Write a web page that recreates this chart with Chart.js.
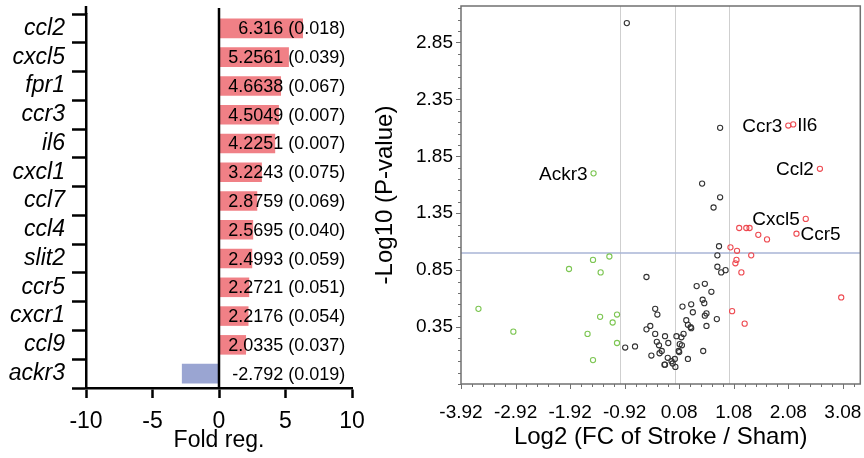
<!DOCTYPE html>
<html>
<head>
<meta charset="utf-8">
<script src="https://cdn.jsdelivr.net/npm/chart.js@4.4.1/dist/chart.umd.min.js"></script>
<style>
  html, body { margin: 0; padding: 0; background: #fff; }
  #wrap { position: relative; width: 864px; height: 458px; overflow: hidden; }
  canvas { position: absolute; top: 0; }
  #foldChart { left: 0; }
  #volcanoChart { left: 370px; }
</style>
</head>
<body>
<div id="wrap">
  <canvas id="foldChart" width="370" height="458"></canvas>
  <canvas id="volcanoChart" width="494" height="458"></canvas>
</div>
<script>
// left panel: fold regulation
const genes = ["ccl2", "cxcl5", "fpr1", "ccr3", "il6", "cxcl1", "ccl7", "ccl4", "slit2", "ccr5", "cxcr1", "ccl9", "ackr3"];
const foldValues = [6.316, 5.2561, 4.6638, 4.5049, 4.2251, 3.2243, 2.8759, 2.5695, 2.4993, 2.2721, 2.2176, 2.0335, -2.792];
const pValues = [0.018, 0.039, 0.067, 0.007, 0.007, 0.075, 0.069, 0.040, 0.059, 0.051, 0.054, 0.037, 0.019];
const foldTicks = [-10, -5, 0, 5, 10];

// right panel: volcano plot
const nsX = [-0.88, 0.83, 0.50, 0.83, 0.71, 0.81, 0.78, 0.78, 0.85, 0.93, -0.52, 0.40, 0.55, 0.67, 0.51, 0.54, 0.30, 0.14, 0.33, -0.36,
  -0.32, 0.58, 0.55, 0.77, 0.21, 0.24, 0.29, 0.30, 0.58, -0.45, -0.52, -0.36, -0.18, 0.03, 0.12, 0.16, -0.33, -0.29, -0.12, 0.09,
  0.13, -0.91, -0.73, -0.24, -0.28, -0.43, 0.07, 0.08, 0.52, -0.13, 0.00, 0.24, -0.06, -0.19, -0.18, -0.04, 0.01];
const nsY = [3.02, 2.10, 1.61, 1.49, 1.40, 1.06, 0.98, 0.88, 0.83, 0.85, 0.79, 0.71, 0.73, 0.66, 0.59, 0.56, 0.55, 0.53, 0.48, 0.51,
  0.46, 0.47, 0.45, 0.42, 0.41, 0.37, 0.35, 0.34, 0.36, 0.36, 0.33, 0.29, 0.27, 0.27, 0.26, 0.29, 0.22, 0.19, 0.21, 0.20,
  0.19, 0.17, 0.18, 0.14, 0.12, 0.10, 0.14, 0.13, 0.14, 0.08, 0.07, 0.07, 0.05, 0.02, 0.02, 0.03, 0.00];

const upX = [2.08, 2.17, 2.66, 2.40, 1.18, 1.31, 1.37, 1.53, 1.69, 2.23, 1.02, 1.14, 1.40, 1.13, 1.11, 1.22, 3.05, 1.05, 1.28];
const upY = [2.12, 2.13, 1.74, 1.30, 1.22, 1.22, 1.22, 1.16, 1.12, 1.17, 1.05, 1.02, 0.98, 0.94, 0.91, 0.83, 0.61, 0.49, 0.38];
const upNames = ["Ccr3", "Il6", "Ccl2", "Cxcl5", "", "", "", "", "", "Ccr5", "", "", "", "", "", "", "", "", ""];

const downX = [-1.49, -3.60, -2.96, -1.94, -1.50, -1.20, -1.36, -1.37, -1.06, -1.14, -1.60, -1.06, -1.50];
const downY = [1.70, 0.51, 0.31, 0.86, 0.94, 0.97, 0.83, 0.44, 0.46, 0.39, 0.29, 0.21, 0.06];
const downNames = ["Ackr3", "", "", "", "", "", "", "", "", "", "", "", ""];

const labelSide = { Ccr3: "left", Il6: "right", Ccl2: "left", Cxcl5: "left", Ccr5: "right", Ackr3: "left" };

const volcanoXTicks = [-3.92, -2.92, -1.92, -0.92, 0.08, 1.08, 2.08, 3.08];
const volcanoYTicks = [0.35, 0.85, 1.35, 1.85, 2.35, 2.85];
const foldCutoffs = [-1, 0, 1];
const pCutoff = 1.0;

const FONT = "'Liberation Sans', Arial, sans-serif";

function toPoints(xs, ys) {
  return xs.map((x, i) => ({ x, y: ys[i] }));
}

// majors plus evenly spaced minor ticks between them
function withMinorTicks(majors, parts, min, max) {
  const step = (majors[1] - majors[0]) / parts;
  let start = majors[0];
  while (start - step >= min - 1e-9) {
    start -= step;
  }
  const ticks = [];
  for (let i = 0; start + i * step <= max + 1e-9; i++) {
    const value = start + i * step;
    const major = majors.some((m) => Math.abs(m - value) < 1e-6);
    ticks.push({ value, major });
  }
  return ticks;
}

function noScalePadding(s) {
  s.paddingTop = 0;
  s.paddingBottom = 0;
  s.paddingLeft = 0;
  s.paddingRight = 0;
}

const foldAxisPlugin = {
  id: "foldAxisPlugin",
  afterDraw(chart) {
    const { ctx, chartArea, scales } = chart;
    const zero = scales.x.getPixelForValue(0);
    ctx.save();
    ctx.strokeStyle = "#000";
    ctx.lineWidth = 2.5;
    ctx.beginPath();
    ctx.moveTo(zero, 8);
    ctx.lineTo(zero, chartArea.bottom);
    ctx.moveTo(chartArea.left, 6);
    ctx.lineTo(chartArea.left, chartArea.top);
    ctx.stroke();

    const right = scales.x.getPixelForValue(9.5);
    ctx.font = "18px " + FONT;
    ctx.fillStyle = "#000";
    ctx.textAlign = "right";
    ctx.textBaseline = "middle";
    chart.getDatasetMeta(0).data.forEach((bar, i) => {
      ctx.fillText(`${foldValues[i]} (${pValues[i].toFixed(3)})`, right, bar.y + 1);
    });
    ctx.restore();
  },
};

const volcanoPlugin = {
  id: "volcanoPlugin",
  beforeDatasetsDraw(chart) {
    const { ctx, chartArea, scales: { x, y } } = chart;
    ctx.save();
    ctx.lineWidth = 1;
    ctx.strokeStyle = "#cfcfcf";
    foldCutoffs.forEach((v) => {
      const px = Math.round(x.getPixelForValue(v)) + 0.5;
      ctx.beginPath();
      ctx.moveTo(px, chartArea.top);
      ctx.lineTo(px, chartArea.bottom);
      ctx.stroke();
    });
    ctx.strokeStyle = "#a9b4d6";
    ctx.lineWidth = 1.5;
    const py = y.getPixelForValue(pCutoff);
    ctx.beginPath();
    ctx.moveTo(chartArea.left, py);
    ctx.lineTo(chartArea.right, py);
    ctx.stroke();
    ctx.restore();
  },
  afterDraw(chart) {
    const { ctx, chartArea, scales: { x, y } } = chart;
    ctx.save();
    ctx.strokeStyle = "#707070";
    ctx.lineWidth = 1.5;
    ctx.strokeRect(chartArea.left, chartArea.top, chartArea.right - chartArea.left, chartArea.bottom - chartArea.top);

    ctx.lineWidth = 1;
    ctx.beginPath();
    x.ticks.forEach((t) => {
      const px = Math.round(x.getPixelForValue(t.value)) + 0.5;
      ctx.moveTo(px, chartArea.bottom);
      ctx.lineTo(px, chartArea.bottom + (t.major ? 5 : 3));
    });
    y.ticks.forEach((t) => {
      const py = Math.round(y.getPixelForValue(t.value)) + 0.5;
      ctx.moveTo(chartArea.left, py);
      ctx.lineTo(chartArea.left - (t.major ? 5 : 3), py);
    });
    ctx.stroke();

    ctx.font = "19px " + FONT;
    ctx.fillStyle = "#000";
    ctx.textBaseline = "middle";
    [[1, upNames], [2, downNames]].forEach(([index, names]) => {
      const meta = chart.getDatasetMeta(index);
      names.forEach((name, i) => {
        if (!name) {
          return;
        }
        const pt = meta.data[i];
        if (labelSide[name] === "left") {
          ctx.textAlign = "right";
          ctx.fillText(name, pt.x - 6, pt.y + 1);
        } else {
          ctx.textAlign = "left";
          ctx.fillText(name, pt.x + 4, pt.y + 1);
        }
      });
    });
    ctx.restore();
  },
};

function createFoldChart() {
  new Chart(document.getElementById("foldChart"), {
    type: "bar",
    data: {
      labels: genes,
      datasets: [
        {
          data: foldValues,
          backgroundColor: foldValues.map((v) => (v > 0 ? "#f08086" : "#9aa5d2")),
          categoryPercentage: 1,
          barPercentage: 0.68,
        },
      ],
    },
    options: {
      indexAxis: "y",
      responsive: false,
      animation: false,
      layout: { padding: { top: 14, right: 18, left: 0, bottom: 0 } },
      plugins: { legend: { display: false }, tooltip: { enabled: false } },
      scales: {
        x: {
          type: "linear",
          min: -10,
          max: 10,
          afterBuildTicks: (s) => {
            s.ticks = foldTicks.map((v) => ({ value: v }));
          },
          afterFit: (s) => {
            s.height = 70;
            noScalePadding(s);
          },
          border: { color: "#000", width: 2.5 },
          grid: { drawOnChartArea: false, tickLength: 10, tickColor: "#000", tickWidth: 2.5 },
          ticks: { color: "#000", font: { size: 23 }, padding: 10, maxRotation: 0, autoSkip: false },
          title: { display: true, text: "Fold reg.", color: "#000", font: { size: 23 }, padding: { top: 0, bottom: 4 } },
        },
        y: {
          afterFit: (s) => {
            s.width = 86;
            noScalePadding(s);
          },
          border: { color: "#000", width: 2.5 },
          grid: { drawOnChartArea: false, tickLength: 14, tickColor: "#000", tickWidth: 2.5 },
          ticks: { color: "#000", font: { size: 23, style: "italic" }, padding: 7, autoSkip: false },
        },
      },
    },
    plugins: [foldAxisPlugin],
  });
}

function createVolcanoChart() {
  const pointStyle = (color) => ({
    pointRadius: 2.6,
    pointBorderWidth: 1.1,
    pointBorderColor: color,
    pointBackgroundColor: "rgba(0,0,0,0)",
    pointHoverRadius: 2.6,
  });

  new Chart(document.getElementById("volcanoChart"), {
    type: "scatter",
    data: {
      datasets: [
        { label: "ns", data: toPoints(nsX, nsY), ...pointStyle("#333333") },
        { label: "up", data: toPoints(upX, upY), ...pointStyle("#ee4b52") },
        { label: "down", data: toPoints(downX, downY), ...pointStyle("#7dc653") },
      ],
    },
    options: {
      responsive: false,
      animation: false,
      layout: { padding: { top: 6, right: 2, left: 0, bottom: 0 } },
      plugins: { legend: { display: false }, tooltip: { enabled: false } },
      scales: {
        x: {
          type: "linear",
          min: -3.92,
          max: 3.4,
          bounds: "data",
          afterBuildTicks: (s) => {
            s.ticks = withMinorTicks(volcanoXTicks, 5, s.min, s.max);
          },
          afterFit: (s) => {
            s.height = 74;
            noScalePadding(s);
          },
          border: { display: false },
          grid: { display: false, drawTicks: false },
          ticks: {
            color: "#000",
            font: { size: 19 },
            padding: 17,
            maxRotation: 0,
            autoSkip: false,
            callback: (v, i, ticks) => (ticks[i].major ? v.toFixed(2) : ""),
          },
          title: {
            display: true,
            text: "Log2 (FC of Stroke / Sham)",
            color: "#000",
            font: { size: 24 },
            padding: { top: 0, bottom: 6 },
          },
        },
        y: {
          type: "linear",
          min: -0.15,
          max: 3.17,
          bounds: "data",
          afterBuildTicks: (s) => {
            s.ticks = withMinorTicks(volcanoYTicks, 5, s.min, s.max);
          },
          afterFit: (s) => {
            s.width = 91;
            noScalePadding(s);
          },
          border: { display: false },
          grid: { display: false, drawTicks: false },
          ticks: {
            color: "#000",
            font: { size: 19 },
            padding: 8,
            autoSkip: false,
            callback: (v, i, ticks) => (ticks[i].major ? v.toFixed(2) : ""),
          },
          title: {
            display: true,
            text: "-Log10 (P-value)",
            color: "#000",
            font: { size: 24 },
            padding: { top: 1, bottom: 0 },
          },
        },
      },
    },
    plugins: [volcanoPlugin],
  });
}

Chart.defaults.font.family = FONT;
createFoldChart();
createVolcanoChart();
</script>
</body>
</html>
